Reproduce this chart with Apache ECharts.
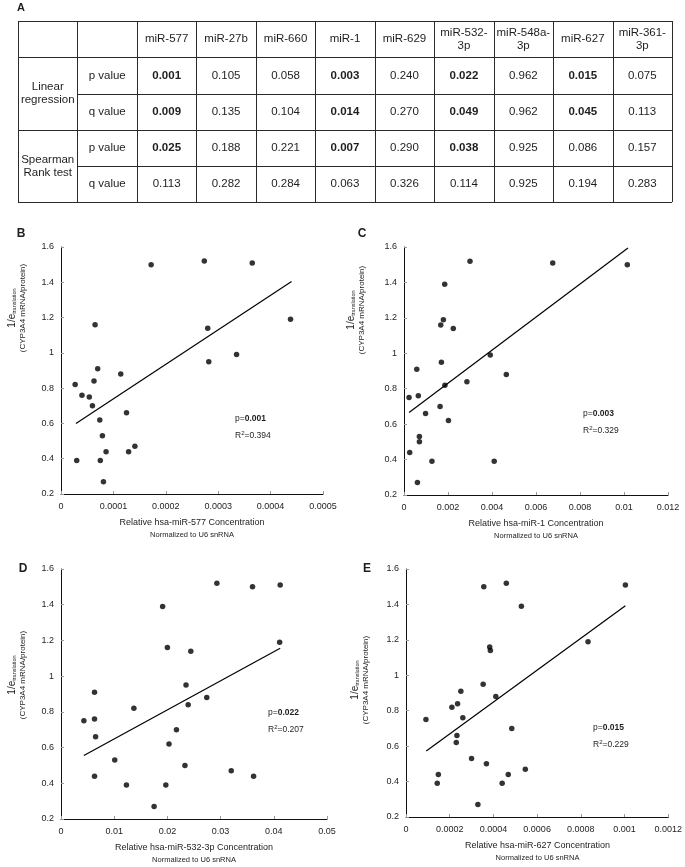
<!DOCTYPE html>
<html><head><meta charset="utf-8">
<script src="https://cdn.jsdelivr.net/npm/echarts@6/dist/echarts.min.js"></script>
<style>html,body{margin:0;padding:0;background:#fff}#c{width:685px;height:867px}</style>
</head><body><div id="c"></div>
<script>
// ---------- Table data (panel A) ----------
const mirnaNames = ['miR-577','miR-27b','miR-660','miR-1','miR-629','miR-532-\n3p','miR-548a-\n3p','miR-627','miR-361-\n3p'];
const linRegP  = [0.001,0.105,0.058,0.003,0.240,0.022,0.962,0.015,0.075];
const linRegQ  = [0.009,0.135,0.104,0.014,0.270,0.049,0.962,0.045,0.113];
const spearP   = [0.025,0.188,0.221,0.007,0.290,0.038,0.925,0.086,0.157];
const spearQ   = [0.113,0.282,0.284,0.063,0.326,0.114,0.925,0.194,0.283];

// ---------- Scatter data ----------
const bX = [1.72e-4,2.735e-4,3.65e-4,4.38e-4,2.80e-4,3.35e-4,2.82e-4,0.65e-4,0.70e-4,1.14e-4,0.27e-4,0.63e-4,0.40e-4,0.54e-4,0.60e-4,1.25e-4,0.74e-4,0.79e-4,1.41e-4,0.86e-4,1.29e-4,0.30e-4,0.75e-4,0.81e-4];
const bY = [1.50,1.52,1.51,1.19,1.14,0.99,0.95,1.16,0.91,0.88,0.82,0.84,0.76,0.75,0.70,0.66,0.62,0.53,0.47,0.44,0.44,0.39,0.39,0.27];
const bFitX = [0.0000285,0.00044];
const bFitY = [0.60,1.405];

const cX = [0.0030,0.00676,0.01015,0.00185,0.00179,0.00167,0.00224,0.00392,0.0017,0.00058,0.00465,0.00286,0.00186,0.00065,0.00023,0.00164,0.00098,0.00202,0.0007,0.0007,0.00026,0.00127,0.0041,0.00061];
const cY = [1.52,1.51,1.50,1.39,1.19,1.16,1.14,0.99,0.95,0.91,0.88,0.84,0.82,0.76,0.75,0.70,0.66,0.62,0.53,0.50,0.44,0.39,0.39,0.27];
const cFitX = [0.00023,0.01018];
const cFitY = [0.666,1.594];

const dX = [0.0293,0.0360,0.0412,0.0191,0.0411,0.0200,0.0244,0.0235,0.0063,0.0274,0.0239,0.0137,0.0063,0.0043,0.0217,0.0065,0.0203,0.0101,0.0233,0.0320,0.0362,0.0063,0.0123,0.0197,0.0175];
const dY = [1.52,1.50,1.51,1.39,1.19,1.16,1.14,0.95,0.91,0.88,0.84,0.82,0.76,0.75,0.70,0.66,0.62,0.53,0.50,0.47,0.44,0.44,0.39,0.39,0.27];
const dFitX = [0.0043,0.0412];
const dFitY = [0.556,1.156];

const eX = [0.000356,0.000459,0.001004,0.000528,0.000833,0.000383,0.000386,0.000353,0.000251,0.000411,0.000236,0.00021,0.00026,0.0000913,0.000484,0.000233,0.00023,0.0003,0.000368,0.000546,0.000148,0.000468,0.000143,0.00044,0.000329];
const eY = [1.50,1.52,1.51,1.39,1.19,1.16,1.14,0.95,0.91,0.88,0.84,0.82,0.76,0.75,0.70,0.66,0.62,0.53,0.50,0.47,0.44,0.44,0.39,0.39,0.27];
const eFitX = [0.0000928,0.001004];
const eFitY = [0.572,1.392];

// ---------- Tick labels ----------
const yTicks = ['0.2','0.4','0.6','0.8','1','1.2','1.4','1.6'];
const xTicksB = ['0','0.0001','0.0002','0.0003','0.0004','0.0005'];
const xTicksC = ['0','0.002','0.004','0.006','0.008','0.01','0.012'];
const xTicksD = ['0','0.01','0.02','0.03','0.04','0.05'];
const xTicksE = ['0','0.0002','0.0004','0.0006','0.0008','0.001','0.0012'];

// ---------- Panel texts ----------
const panelNames = ['hsa-miR-577','hsa-miR-1','hsa-miR-532-3p','hsa-miR-627'];
const panelP = ['0.001','0.003','0.022','0.015'];
const panelR2 = ['0.394','0.329','0.207','0.229'];

const FONT = '"Liberation Sans", Arial, sans-serif';
const TXT = '#1e1e1e';
const pairs = (xs, ys) => xs.map((x, i) => [x, ys[i]]);

// ---------- layout ----------
const grids = [
  {left: 61,  top: 247, width: 262, height: 247},
  {left: 404, top: 247, width: 264, height: 248},
  {left: 61,  top: 569, width: 266, height: 250},
  {left: 406, top: 569, width: 263, height: 248}
];
const xCfg = [
  {max: 0.0005, interval: 0.0001, labels: xTicksB},
  {max: 0.012,  interval: 0.002,  labels: xTicksC},
  {max: 0.05,   interval: 0.01,   labels: xTicksD},
  {max: 0.0012, interval: 0.0002, labels: xTicksE}
];
const scat = [pairs(bX,bY), pairs(cX,cY), pairs(dX,dY), pairs(eX,eY)];
const fits = [pairs(bFitX,bFitY), pairs(cFitX,cFitY), pairs(dFitX,dFitY), pairs(eFitX,eFitY)];

const graphic = [];
// Table
const tL = 18, tR = 672, rowsY = [21, 57.3, 94, 130, 166, 202];
const colW = (tR - tL) / 11;
const colX = i => tL + i * colW;
const stroke = {stroke: '#2a2a2a', lineWidth: 1};
function hline(x1, x2, y) { graphic.push({type:'line', shape:{x1, y1:Math.round(y)+0.5, x2, y2:Math.round(y)+0.5}, style: stroke, silent:true}); }
function vline(x, y1, y2) { graphic.push({type:'line', shape:{x1:Math.round(x)+0.5, y1, x2:Math.round(x)+0.5, y2}, style: stroke, silent:true}); }
hline(tL, tR, rowsY[0]); hline(tL, tR, rowsY[1]); hline(tL, tR, rowsY[3]); hline(tL, tR, rowsY[5]);
hline(colX(1), tR, rowsY[2]); hline(colX(1), tR, rowsY[4]);
for (let i = 0; i <= 11; i++) vline(colX(i), rowsY[0], rowsY[5]);
function txt(text, x, y, size, weight, extra) {
  graphic.push(Object.assign({type:'text', x, y, silent:true,
    style: {text, fill: TXT, font: (weight||'normal') + ' ' + size + 'px ' + FONT, align:'center', verticalAlign:'middle', lineHeight: 13}}, extra||{}));
}
txt('A', 21, 8, 11, 'bold');
mirnaNames.forEach((n, i) => txt(n, colX(i + 2) + colW / 2, (rowsY[0] + rowsY[1]) / 2, 11.5));
txt('Linear\nregression', colX(0) + colW / 2, (rowsY[1] + rowsY[3]) / 2, 11.5);
txt('Spearman\nRank test', colX(0) + colW / 2, (rowsY[3] + rowsY[5]) / 2, 11.5);
const rowsData = [linRegP, linRegQ, spearP, spearQ];
['p value','q value','p value','q value'].forEach((lab, r) => {
  const cy = (rowsY[r + 1] + rowsY[r + 2]) / 2;
  txt(lab, colX(1) + colW / 2, cy, 11.5);
  rowsData[r].forEach((v, i) => txt(v.toFixed(3), colX(i + 2) + colW / 2, cy, 11.5, v < 0.05 ? 'bold' : 'normal'));
});

// Panel letters, titles, annotations
const letters = ['B','C','D','E'];
const letterPos = [[21,234],[362,234],[23,569],[367,569]];
const yTitlePos = [[17,308],[356,310],[17,675],[360,680]];
const annPos = [[235,419],[583,414],[268,713],[593,728]];
grids.forEach((g, k) => {
  txt(letters[k], letterPos[k][0], letterPos[k][1], 12, 'bold');
  const cx = g.left + g.width / 2, by = g.top + g.height;
  txt('Relative ' + panelNames[k] + ' Concentration', cx, by + 29, 9);
  txt('Normalized to U6 snRNA', cx, by + 41, 7.5);
  graphic.push({type:'text', x: yTitlePos[k][0], y: yTitlePos[k][1], rotation: Math.PI / 2, silent:true,
    style: {text: '{a|1/e}{s|translation}\n{b|(CYP3A4 mRNA/protein)}', align:'center', verticalAlign:'middle', fill: TXT,
      rich: {a: {fontSize: 10, fontFamily: FONT, fill: TXT, lineHeight: 11},
             s: {fontSize: 5.5, fontFamily: FONT, fill: TXT, verticalAlign: 'bottom', lineHeight: 11},
             b: {fontSize: 8, fontFamily: FONT, fill: TXT, lineHeight: 10}}}});
  graphic.push({type:'text', x: annPos[k][0], y: annPos[k][1], silent:true,
    style: {text: '{n|p=}{b|' + panelP[k] + '}', align:'left', verticalAlign:'middle', fill: TXT,
      rich: {n: {fontSize: 8.5, fontFamily: FONT, fill: TXT}, b: {fontSize: 8.5, fontFamily: FONT, fontWeight: 'bold', fill: TXT}}}});
  graphic.push({type:'text', x: annPos[k][0], y: annPos[k][1] + 17, silent:true,
    style: {text: '{n|R}{s|2}{n|=' + panelR2[k] + '}', align:'left', verticalAlign:'middle', fill: TXT,
      rich: {n: {fontSize: 8.5, fontFamily: FONT, fill: TXT, lineHeight: 12}, s: {fontSize: 6, fontFamily: FONT, fill: TXT, verticalAlign: 'top', lineHeight: 12}}}});
});

const axisCommon = {
  axisLine: {show: true, onZero: false, lineStyle: {color: '#111', width: 1}},
  axisTick: {show: true, inside: true, length: 3, lineStyle: {color: '#999'}},
  splitLine: {show: false},
  axisLabel: {color: TXT, fontSize: 9, fontFamily: FONT}
};

const option = {
  animation: false,
  backgroundColor: '#fff',
  grid: grids.map(g => Object.assign({containLabel: false}, g)),
  xAxis: xCfg.map((c, k) => Object.assign({}, axisCommon, {
    type: 'value', gridIndex: k, min: 0, max: c.max, interval: c.interval,
    axisLabel: Object.assign({}, axisCommon.axisLabel, {margin: 8, formatter: (v, i) => c.labels[i] !== undefined ? c.labels[i] : String(v)})
  })),
  yAxis: grids.map((g, k) => Object.assign({}, axisCommon, {
    type: 'value', gridIndex: k, min: 0.2, max: 1.6, interval: 0.2,
    axisLabel: Object.assign({}, axisCommon.axisLabel, {margin: 7, formatter: (v, i) => yTicks[i]})
  })),
  series: [].concat(
    scat.map((d, k) => ({type: 'scatter', xAxisIndex: k, yAxisIndex: k, data: d, symbolSize: 5.5, itemStyle: {color: '#000'}, silent: true})),
    fits.map((d, k) => ({type: 'line', xAxisIndex: k, yAxisIndex: k, data: d, showSymbol: false, symbol: 'none', lineStyle: {color: '#000', width: 1.2}, silent: true}))
  ),
  graphic: graphic
};
const chart = echarts.init(document.getElementById('c'), null, {renderer: 'canvas'});
chart.setOption(option);
</script>
</body></html>
